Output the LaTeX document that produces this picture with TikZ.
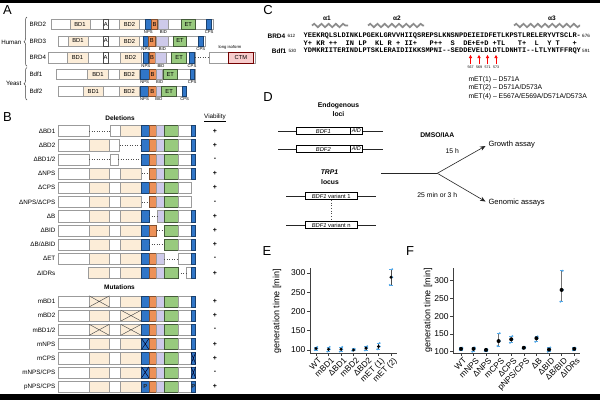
\documentclass[tikz,border=0pt]{standalone}
\usepackage{fontspec}
\setmainfont{Liberation Sans}
\newfontfamily\seqfont{Liberation Mono}
\usetikzlibrary{decorations.pathreplacing,decorations.pathmorphing,arrows.meta}
\definecolor{npsblue}{RGB}{48,118,200}
\definecolor{borange}{RGB}{237,145,88}
\definecolor{lav}{RGB}{206,202,234}
\definecolor{etgreen}{RGB}{152,202,126}
\definecolor{beige}{RGB}{252,237,216}
\definecolor{ctmpink}{RGB}{247,204,204}
\definecolor{repblue}{RGB}{82,168,232}
\definecolor{outl}{RGB}{155,155,155}
\newcommand{\fs}[1]{\fontsize{#1}{#1}\selectfont}
\newcommand{\segrow}[3]{\foreach \ty/\xa/\xb in {#3}{\path[seg\ty] (\xa,#1-#2) rectangle (\xb,#1+#2);}}
\newcommand{\fullrow}[1]{\segrow{#1}{5.6}{W/58.3/89, D/89/109.5, W/109.5/120.5, D/120.5/141.5, N/141.5/149, B/149/156.5, I/156.5/164, E/164/178.3, W/178.3/191, C/191/195.7}}
\newcommand{\xmark}[4]{\draw[#4] (#1,#3-5.6) -- (#2,#3+5.6) (#1,#3+5.6) -- (#2,#3-5.6);}
\tikzset{
  segW/.style={draw=outl, fill=white, line width=0.45pt},
  segD/.style={draw=outl, fill=beige, line width=0.45pt},
  segN/.style={draw=npsblue!55!black, fill=npsblue, line width=0.45pt},
  segB/.style={draw=borange!55!black, fill=borange, line width=0.45pt},
  segI/.style={draw=outl, fill=lav, line width=0.45pt},
  segE/.style={draw=etgreen!45!black, fill=etgreen, line width=0.45pt},
  segC/.style={segN},
  segA/.style={draw=black!70, fill=white, line width=0.45pt},
  segP/.style={draw=red!45!black, fill=ctmpink, line width=0.45pt},
  dotseg/.style={dotted, line width=0.55pt, black!70},
  xgray/.style={draw=black!70, line width=0.45pt},
  xblue/.style={draw=black!85!blue, line width=0.5pt},
  plet/.style={font=\fs{13}, inner sep=0pt},
  rowlbl/.style={font=\fs{6.2}, anchor=west, inner sep=0pt},
  domlbl/.style={font=\fs{5.8}, inner sep=0pt},
  sublbl/.style={font=\fs{4.2}, inner sep=0pt},
  blbl/.style={font=\fs{6.3}, anchor=east, inner sep=0pt},
  vlbl/.style={font=\fs{7}\bfseries, inner sep=0pt},
  hdr/.style={font=\fs{6.5}\bfseries, inner sep=0pt},
  brace/.style={decorate, decoration={brace, amplitude=3pt}, draw=black!75, line width=0.5pt},
  seqtxt/.style={font=\seqfont\bfseries\fs{7}, inner sep=0pt, anchor=west},
  tiny/.style={font=\fs{4.6}, inner sep=0pt},
  helix/.style={decorate, decoration={snake, segment length=7.2pt, amplitude=1.7pt}, line width=1.7pt, draw=black!45},
  redarr/.style={draw=red, line width=0.9pt, -{Triangle[length=3pt,width=3.2pt]}},
  dtxt/.style={font=\fs{6.8}, inner sep=0pt},
  gbox/.style={draw=black, line width=0.5pt, inner sep=0pt, fill=white, font=\fs{5.8}},
  dline/.style={draw=black!85, line width=0.6pt},
  darr/.style={dline, -{Stealth[length=5.5pt,width=4.5pt]}},
  axis/.style={draw=black!75, line width=0.6pt},
  ticklbl/.style={font=\fs{8.5}, inner sep=0pt, anchor=east},
  catlbl/.style={font=\fs{8.3}, inner sep=0pt, anchor=north east, rotate=45},
  ylbl/.style={font=\fs{9}, inner sep=0pt, rotate=90},
  ebar/.style={draw=black!70, line width=0.8pt},
  ecap/.style={draw=repblue, line width=0.8pt}
}
\begin{document}
\begin{tikzpicture}[x=1pt,y=-1pt]
\useasboundingbox (0,0) rectangle (600,400);
\fill[white] (0,0) rectangle (600,400);
\fill[black] (0,0) rectangle (600,3);
\fill[black] (0,394) rectangle (600,400);

% ---------------- Panel letters
\node[plet] (pA) at (7.5,10.5) {A};
\node[plet] (pB) at (7.5,117.5) {B};
\node[plet] (pC) at (268,10.5) {C};
\node[plet] (pD) at (268,97.5) {D};
\node[plet] (pE) at (267,251) {E};
\node[plet] (pF) at (410,251) {F};

% ---------------- Panel A
\node[font=\fs{6.2}, anchor=east, inner sep=0pt] (hum) at (21.5,42.2) {Human};
\node[font=\fs{6.2}, anchor=east, inner sep=0pt] (yst) at (21.5,83.2) {Yeast};
\draw[brace] (27,66.3) -- (27,17);
\draw[brace] (27,100) -- (27,67.5);

\node[rowlbl] (rBRD2) at (29.3,24.2) {BRD2};
\node[rowlbl] (rBRD3) at (29.3,41) {BRD3};
\node[rowlbl] (rBRD4) at (29.3,57.7) {BRD4};
\node[rowlbl] (rBdf1) at (29.3,74.3) {Bdf1};
\node[rowlbl] (rBdf2) at (29.3,91.3) {Bdf2};

% BRD2
\segrow{24.2}{5.25}{W/51.7/213, D/70/90, A/103.3/108.3, D/119.3/139.5, N/145/151.7, B/151.7/157.3, I/158.3/168.3, E/181.7/195, C/206.7/211.7}
\node[domlbl] (a1d1) at (80,24.2) {BD1};
\node[domlbl] (a1a) at (105.8,24.2) {A};
\node[domlbl] (a1d2) at (129.4,24.2) {BD2};
\node[domlbl] (a1b) at (154.5,24.2) {B};
\node[domlbl] (a1e) at (188.3,24.2) {ET};
\node[sublbl] (a1n) at (148.3,32.2) {NPS};
\node[sublbl] (a1i) at (163.3,32.2) {BID};
\node[sublbl] (a1c) at (209.2,32.2) {CPS};
% BRD3
\segrow{41}{5.25}{W/58.3/205, D/68/88, A/103.3/108.3, D/119.3/139.5, N/143.3/148.3, B/148.3/155, I/156.5/168.3, E/173.3/186.7, C/198.3/203.3}
\node[domlbl] (a2d1) at (78,41) {BD1};
\node[domlbl] (a2a) at (105.8,41) {A};
\node[domlbl] (a2d2) at (129.4,41) {BD2};
\node[domlbl] (a2b) at (151.7,41) {B};
\node[domlbl] (a2e) at (180,41) {ET};
\node[sublbl] (a2n) at (145.8,49) {NPS};
\node[sublbl] (a2i) at (162.4,49) {BID};
\node[sublbl] (a2c) at (200.8,49) {CPS};
% BRD4
\segrow{57.7}{5.25}{W/48.3/195, D/67/88, A/103/108.3, D/120/141, N/143.3/148.3, B/149/155, I/155.5/166.7, E/171.7/186.7, C/189.5/194.5, W/209.3/255, P/228.3/253.5}
\coordinate (b4end) at (195,57.7);
\coordinate (b4iso) at (209.3,57.7);
\draw[dotseg] (b4end) -- (b4iso);
\node[domlbl] (a3d1) at (77.5,57.7) {BD1};
\node[domlbl] (a3a) at (105.6,57.7) {A};
\node[domlbl] (a3d2) at (130.5,57.7) {BD2};
\node[domlbl] (a3b) at (152,57.7) {B};
\node[domlbl] (a3e) at (179.2,57.7) {ET};
\node[domlbl] (a3ctm) at (240.9,57.7) {CTM};
\node[sublbl] (a3iso) at (230,47) {long isoform};
\node[sublbl] (a3n) at (145.8,65.7) {NPS};
\node[sublbl] (a3i) at (161,65.7) {BID};
\node[sublbl] (a3c) at (192,65.7) {CPS};
% Bdf1
\segrow{74.3}{5.25}{W/56.7/195, D/87.7/108.3, D/119.3/139, N/140/149.3, B/149.3/156, I/156.7/162.7, E/163.3/177.3, C/190/194.3}
\node[domlbl] (a4d1) at (98,74.3) {BD1};
\node[domlbl] (a4d2) at (129.2,74.3) {BD2};
\node[domlbl] (a4b) at (152.6,74.3) {B};
\node[domlbl] (a4e) at (170.3,74.3) {ET};
\node[sublbl] (a4n) at (144.7,82.3) {NPS};
\node[sublbl] (a4i) at (159.7,82.3) {BID};
\node[sublbl] (a4c) at (192.2,82.3) {CPS};
% Bdf2
\segrow{91.3}{5.25}{W/58.3/186.7, D/83.3/103.3, D/119.3/139, N/140.7/148.3, B/148.3/156, I/156/161.7, E/161.7/176.7, C/182.7/186.7}
\node[domlbl] (a5d1) at (93.3,91.3) {BD1};
\node[domlbl] (a5d2) at (129.2,91.3) {BD2};
\node[domlbl] (a5b) at (152.2,91.3) {B};
\node[domlbl] (a5e) at (169.2,91.3) {ET};
\node[sublbl] (a5n) at (144.5,99.3) {NPS};
\node[sublbl] (a5i) at (158.9,99.3) {BID};
\node[sublbl] (a5c) at (184.7,99.3) {CPS};

% ---------------- Panel B
\node[hdr] (hdel) at (120,118) {Deletions};
\node[font=\fs{6.3}, inner sep=0pt] (hvia) at (215,118) {\underline{Viability}};
\node[hdr] (hmut) at (119.5,287.2) {Mutations};

% row 0 dBD1
\segrow{131}{5.6}{W/58.3/89, W/110/120.5, D/120.5/141.5, N/141.5/149, B/149/156.5, I/156.5/164, E/164/178.3, W/178.3/191, C/191/195.7}
\draw[dotseg] (89,131) -- (110,131);
% row 1 dBD2
\segrow{145.2}{5.6}{W/58.3/89, D/89/109.5, W/109.5/119.5, N/141.5/149, B/149/156.5, I/156.5/164, E/164/178.3, W/178.3/191, C/191/195.7}
\draw[dotseg] (119.5,145.2) -- (141.5,145.2);
% row 2 dBD1/2
\segrow{159.4}{5.6}{W/58.3/89, W/110/118, N/141.5/149, B/149/156.5, I/156.5/164, E/164/178.3, W/178.3/191, C/191/195.7}
\draw[dotseg] (89,159.4) -- (110,159.4);
\draw[dotseg] (118,159.4) -- (141.5,159.4);
% row 3 dNPS
\segrow{173.6}{5.6}{W/58.3/89, D/89/109.5, W/109.5/120.5, D/120.5/141.5, B/149/156.5, I/156.5/164, E/164/178.3, W/178.3/191, C/191/195.7}
\draw[dotseg] (141.5,173.6) -- (149,173.6);
% row 4 dCPS
\segrow{187.8}{5.6}{W/58.3/89, D/89/109.5, W/109.5/120.5, D/120.5/141.5, N/141.5/149, B/149/156.5, I/156.5/164, E/164/178.3, W/178.3/191}
% row 5 dNPS/dCPS
\segrow{202}{5.6}{W/58.3/89, D/89/109.5, W/109.5/120.5, D/120.5/141.5, B/149/156.5, I/156.5/164, E/164/178.3, W/178.3/191}
\draw[dotseg] (141.5,202) -- (149,202);
% row 6 dB
\segrow{216.2}{5.6}{W/58.3/89, D/89/109.5, W/109.5/120.5, D/120.5/141.5, N/141.5/149, I/157/164, E/164/178.3, W/178.3/191, C/191/195.7}
\draw[dotseg] (149,216.2) -- (157,216.2);
% row 7 dBID
\segrow{230.4}{5.6}{W/58.3/89, D/89/109.5, W/109.5/120.5, D/120.5/141.5, N/141.5/149, B/149/156.5, E/164/178.3, W/178.3/191, C/191/195.7}
\draw[dotseg] (156.5,230.4) -- (164,230.4);
% row 8 dB/dBID
\segrow{244.6}{5.6}{W/58.3/89, D/89/109.5, W/109.5/120.5, D/120.5/141.5, N/141.5/149, E/164/178.3, W/178.3/191, C/191/195.7}
\draw[dotseg] (149,244.6) -- (164,244.6);
% row 9 dET
\segrow{258.8}{5.6}{W/58.3/89, D/89/109.5, W/109.5/120.5, D/120.5/141.5, N/141.5/149, B/149/156.5, I/156.5/164, W/178.3/191, C/191/195.7}
\draw[dotseg] (164,258.8) -- (178.3,258.8);
% row 10 dIDRs
\segrow{273}{5.6}{D/88/109.5, W/109.5/120.5, D/120.5/141.5, N/141.5/149, B/149/156.5, I/156.5/164, E/164/178.3, W/186/191, C/191/195.7}
\draw[dotseg] (178.3,273) -- (186,273);
% mutations
\fullrow{301.4} \xmark{89}{109.5}{301.4}{xgray}
\fullrow{315.6} \xmark{120.5}{141.5}{315.6}{xgray}
\fullrow{329.8} \xmark{89}{109.5}{329.8}{xgray} \xmark{120.5}{141.5}{329.8}{xgray}
\fullrow{344} \xmark{141.5}{149}{344}{xblue}
\fullrow{358.2} \xmark{191}{195.7}{358.2}{xblue}
\fullrow{372.4} \xmark{141.5}{149}{372.4}{xblue} \xmark{191}{195.7}{372.4}{xblue}
\fullrow{386.6}
\node[font=\fs{5.8}\bfseries, inner sep=0pt, text=black!85] (pn) at (145.25,386.6) {P};
\node[font=\fs{5.8}\bfseries, inner sep=0pt, text=black!85] (pc) at (193.35,386.6) {P};

\node[blbl] (bl0) at (55.5,131) {ΔBD1};
\node[blbl] (bl1) at (55.5,145.2) {ΔBD2};
\node[blbl] (bl2) at (55.5,159.4) {ΔBD1/2};
\node[blbl] (bl3) at (55.5,173.6) {ΔNPS};
\node[blbl] (bl4) at (55.5,187.8) {ΔCPS};
\node[blbl] (bl5) at (55.5,202) {ΔNPS/ΔCPS};
\node[blbl] (bl6) at (55.5,216.2) {ΔB};
\node[blbl] (bl7) at (55.5,230.4) {ΔBID};
\node[blbl] (bl8) at (55.5,244.6) {ΔB/ΔBID};
\node[blbl] (bl9) at (55.5,258.8) {ΔET};
\node[blbl] (bl10) at (55.5,273) {ΔIDRs};
\node[blbl] (bl12) at (55.5,301.4) {mBD1};
\node[blbl] (bl13) at (55.5,315.6) {mBD2};
\node[blbl] (bl14) at (55.5,329.8) {mBD1/2};
\node[blbl] (bl15) at (55.5,344) {mNPS};
\node[blbl] (bl16) at (55.5,358.2) {mCPS};
\node[blbl] (bl17) at (55.5,372.4) {mNPS/CPS};
\node[blbl] (bl18) at (55.5,386.6) {pNPS/CPS};

\foreach \yy/\vv [count=\k] in {131/+, 145.2/+, 159.4/-, 173.6/+, 187.8/+, 202/-, 216.2/+, 230.4/+, 244.6/+, 258.8/-, 273/+, 301.4/+, 315.6/+, 329.8/-, 344/+, 358.2/+, 372.4/-, 386.6/+}
  {\node[vlbl] (via\k) at (215,\yy) {\vv};}

% ---------------- Panel C
\node[font=\fs{6.5}\bfseries, inner sep=0pt] (ha1) at (327,18.3) {α1};
\node[font=\fs{6.5}\bfseries, inner sep=0pt] (ha2) at (397,18.3) {α2};
\node[font=\fs{6.5}\bfseries, inner sep=0pt] (ha3) at (552,18.3) {α3};
\coordinate (h1a) at (312,25.5); \coordinate (h1b) at (348,25.5);
\coordinate (h2a) at (368,25.5); \coordinate (h2b) at (424,25.5);
\coordinate (h3a) at (514,25.5); \coordinate (h3b) at (580,25.5);
\draw[helix] (h1a) -- (h1b);
\draw[helix] (h2a) -- (h2b);
\draw[helix] (h3a) -- (h3b);

\node[font=\fs{6.5}\bfseries, inner sep=0pt, anchor=east] (lBRD4) at (285.5,35.8) {BRD4};
\node[tiny, anchor=west] (n612) at (287.3,35.8) {612};
\node[font=\fs{6.5}\bfseries, inner sep=0pt, anchor=east] (lBdf1) at (286.5,51) {Bdf1};
\node[tiny, anchor=west] (n530) at (288.3,51) {530};
\node[seqtxt] (sq1) at (303.5,35.8) {YEEKRQLSLDINKLPGEKLGRVVHIIQSREPSLKNSNPDEIEIDFETLKPSTLRELERYVTSCLR-};
\node[seqtxt] (sq2) at (303.5,43.4) {Y+\ KR\ ++\ \ IN\ LP\ \ KL\ R\ +\ II+\ \ \ P++\ \ S\ \ DE+E+D\ +TL\ \ \ T+\ \ L\ \ Y\ T\ \ \ +};
\node[seqtxt] (sq3) at (303.5,51) {YDMKRIITERINDLPTSKLERAIDIIKKSMPNI--SEDDEVELDLDTLDNHTI--LTLYNTFFRQY};
\node[tiny, anchor=west] (n676) at (582,35.8) {676};
\node[tiny, anchor=west] (n591) at (582,51) {591};

\foreach \xx/\nn in {470.5/567, 479/569, 487.5/571, 496/573} {
  \coordinate (ra\nn) at (\xx,63.5);
  \coordinate (rb\nn) at (\xx,55);
  \draw[redarr] (ra\nn) -- (rb\nn);
  \node[font=\fs{3.6}, inner sep=0pt] (rn\nn) at (\xx,67) {\nn};
}
\node[font=\fs{6.8}, inner sep=0pt, anchor=west] (met1) at (468.3,79.5) {mET(1) – D571A};
\node[font=\fs{6.8}, inner sep=0pt, anchor=west] (met2) at (468.3,88) {mET(2) – D571A/D573A};
\node[font=\fs{6.8}, inner sep=0pt, anchor=west] (met4) at (468.3,96.5) {mET(4) – E567A/E569A/D571A/D573A};

% ---------------- Panel D
\node[font=\fs{6.8}\bfseries, inner sep=0pt] (endo1) at (338.5,105.7) {Endogenous};
\node[font=\fs{6.8}\bfseries, inner sep=0pt] (endo2) at (338.5,114.3) {loci};
\node[gbox, minimum width=53.3pt, minimum height=6.8pt] (bdf1) at (323.35,131) {\textit{BDF1}};
\node[gbox, minimum width=12.7pt, minimum height=6.8pt, font=\fs{5.5}] (aid1) at (356.35,131) {\textit{AID}};
\node[gbox, minimum width=53.3pt, minimum height=6.8pt] (bdf2) at (323.35,149) {\textit{BDF2}};
\node[gbox, minimum width=12.7pt, minimum height=6.8pt, font=\fs{5.5}] (aid2) at (356.35,149) {\textit{AID}};
\coordinate (l1) at (278,131); \coordinate (r1) at (382.7,131);
\coordinate (l2) at (278,149); \coordinate (r2) at (382.7,149);
\draw[dline] (l1) -- (bdf1.west);
\draw[dline] (aid1.east) -- (r1);
\draw[dline] (l2) -- (bdf2.west);
\draw[dline] (aid2.east) -- (r2);

\node[font=\fs{6.8}\bfseries\itshape, inner sep=0pt] (trp1) at (329.5,172.5) {TRP1};
\node[font=\fs{6.8}\bfseries, inner sep=0pt] (locus) at (330,182.3) {locus};
\node[gbox, minimum width=52.3pt, minimum height=7.4pt] (var1) at (331.15,196) {\textit{BDF1} variant 1};
\node[gbox, minimum width=52.3pt, minimum height=7.4pt] (varn) at (331.15,225) {\textit{BDF1} variant n};
\coordinate (lv1) at (286,196); \coordinate (rv1) at (376,196);
\coordinate (lvn) at (286,225); \coordinate (rvn) at (376,225);
\draw[dline] (lv1) -- (var1.west);
\draw[dline] (var1.east) -- (rv1);
\draw[dline] (lvn) -- (varn.west);
\draw[dline] (varn.east) -- (rvn);
\draw[dotseg, line width=0.7pt] (var1.south) -- (varn.north);

\coordinate (mainL) at (381,173.3);
\coordinate (branch) at (437.3,173.3);
\coordinate (tipG) at (485.5,146);
\coordinate (tipN) at (485.5,201.5);
\draw[dline] (mainL) -- (branch);
\draw[darr] (branch) -- (tipG);
\draw[darr] (branch) -- (tipN);
\node[font=\fs{6.8}\bfseries, inner sep=0pt] (dmso) at (437.3,135) {DMSO/IAA};
\node[dtxt] (t15) at (452.3,151) {15 h};
\node[dtxt] (t25) at (437.3,195) {25 min or 3 h};
\node[font=\fs{7.6}, inner sep=0pt, anchor=west] (grow) at (488.3,145) {Growth assay};
\node[font=\fs{7.6}, inner sep=0pt, anchor=west] (geno) at (488.3,202.3) {Genomic assays};

% ---------------- Panel E
\node[ylbl] (eyl) at (277,311) {generation time [min]};
\coordinate (eo) at (310,353.3);
\coordinate (etop) at (310,268);
\coordinate (eright) at (397,353.3);
\draw[axis] (etop) -- (eo) -- (eright);
\foreach \v in {100,150,200,250,300} {
  \pgfmathsetmacro\yy{350-(\v-100)*0.385}
  \draw[axis] (307,\yy) -- (310,\yy);
  \node[ticklbl] (et\v) at (305.5,\yy) {\v};
}
\foreach \xx/\m/\lo/\hi/\lab [count=\k] in {316/104/100/108/WT, 328.5/102/96/108/mBD1, 341/102/96/108/ΔBD1, 353.5/100/98/103/mBD2, 366/105/99/110/ΔBD2, 378.5/109/102/118/mET (1), 391/289/269/310/mET (2)} {
  \pgfmathsetmacro\ym{350-(\m-100)*0.385}
  \pgfmathsetmacro\yl{350-(\lo-100)*0.385}
  \pgfmathsetmacro\yh{350-(\hi-100)*0.385}
  \draw[axis] (\xx,353.3) -- (\xx,356);
  \draw[ebar] (\xx,\yl) -- (\xx,\yh);
  \draw[ecap] (\xx-1.8,\yl) -- (\xx+1.8,\yl) (\xx-1.8,\yh) -- (\xx+1.8,\yh);
  \fill[repblue] (\xx-1.2,\yl) circle (1.1pt) (\xx+1.2,\yh) circle (1.1pt) (\xx+1.3,\ym) circle (1.1pt);
  \fill[black] (\xx,\ym) circle (1.7pt);
  \node[catlbl] (ec\k) at (\xx+2,357) {\lab};
}

% ---------------- Panel F
\node[ylbl] (fyl) at (428,310) {generation time [min]};
\coordinate (fo) at (453.3,353.3);
\coordinate (ftop) at (453.3,268);
\coordinate (fright) at (580,353.3);
\draw[axis] (ftop) -- (fo) -- (fright);
\foreach \v in {100,150,200,250,300} {
  \pgfmathsetmacro\yy{351.7-(\v-100)*0.355}
  \draw[axis] (450.3,\yy) -- (453.3,\yy);
  \node[ticklbl] (ft\v) at (448.8,\yy) {\v};
}
\foreach \xx/\m/\lo/\hi/\lab [count=\k] in {461/108/105/111/WT, 473.5/108/100/112/mNPS, 486/105/102/107/ΔNPS, 498.6/130/116/152/mCPS, 511.2/135/125/144/ΔCPS, 523.8/111/109/113/{pNPS/CPS}, 536.4/138/128/143/ΔB, 549/106/100/112/ΔBID, 561.6/274/241/328/{ΔB/BID}, 574.2/108/104/111/ΔIDRs} {
  \pgfmathsetmacro\ym{351.7-(\m-100)*0.355}
  \pgfmathsetmacro\yl{351.7-(\lo-100)*0.355}
  \pgfmathsetmacro\yh{351.7-(\hi-100)*0.355}
  \draw[axis] (\xx,353.3) -- (\xx,356);
  \draw[ebar, draw=black!55] (\xx,\yl) -- (\xx,\yh);
  \draw[ecap] (\xx-1.8,\yl) -- (\xx+1.8,\yl) (\xx-1.8,\yh) -- (\xx+1.8,\yh);
  \fill[repblue] (\xx-1.2,\yl) circle (1.1pt) (\xx+1.2,\yh) circle (1.1pt) (\xx+1.3,\ym) circle (1.1pt);
  \fill[black] (\xx,\ym) circle (2pt);
  \node[catlbl] (fc\k) at (\xx+2,357) {\lab};
}
\end{tikzpicture}
\end{document}
